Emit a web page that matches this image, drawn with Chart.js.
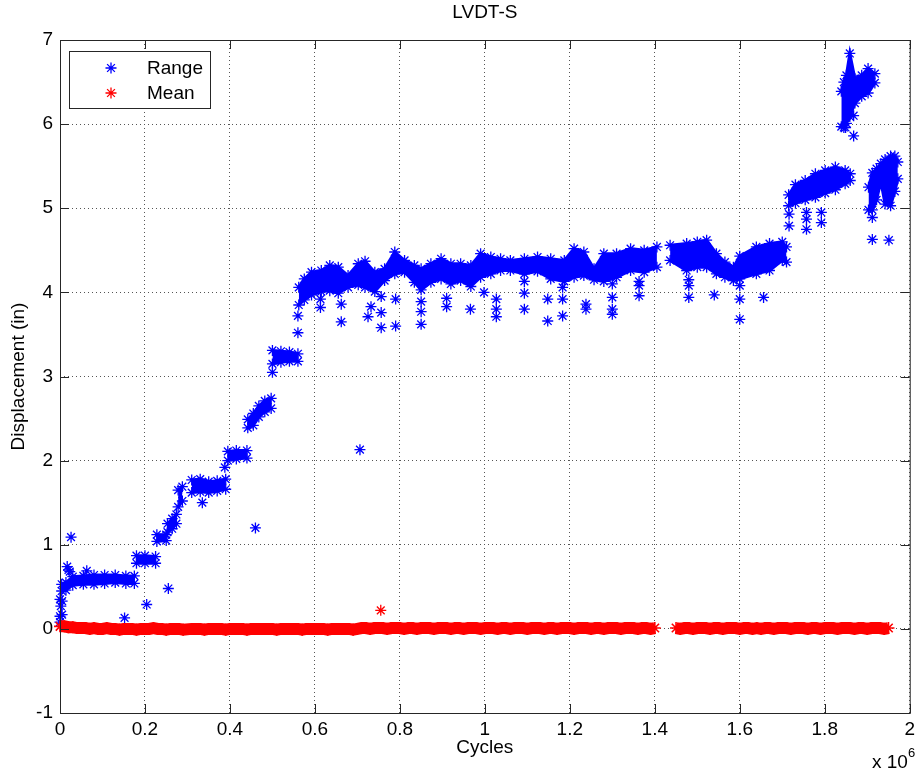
<!DOCTYPE html>
<html>
<head>
<meta charset="utf-8">
<title>LVDT-S</title>
<script src="https://cdn.jsdelivr.net/npm/chart.js@4.4.1/dist/chart.umd.min.js"></script>
<style>
  html, body { margin: 0; padding: 0; background: #fff; }
  #lvdtChart { display: block; }
</style>
</head>
<body>
<canvas id="lvdtChart" width="920" height="774"></canvas>
<script>
// cycles are stored in units of 10^6

const xTickValues = [0, 0.2, 0.4, 0.6, 0.8, 1, 1.2, 1.4, 1.6, 1.8, 2];
const yTickValues = [-1, 0, 1, 2, 3, 4, 5, 6, 7];

// Range: dense clusters given by their upper and lower edge, null splits the clusters
const bandCycles = [
  0.000, 0.005, null,
  0.004, 0.014, 0.030, 0.055, 0.080, 0.105, 0.130, 0.155, 0.175, null,
  0.180, 0.200, 0.225, null,
  0.228, 0.250, null,
  0.253, 0.264, 0.274, null,
  0.278, 0.288, null,
  0.310, 0.330, 0.350, 0.370, 0.390, null,
  0.395, 0.415, 0.440, null,
  0.442, 0.455, 0.468, 0.482, 0.497, null,
  0.500, 0.520, 0.540, 0.560, null,
  0.562, 0.575, 0.592, 0.615, 0.635, 0.655, 0.678, 0.702, 0.718, 0.741, 0.764, 0.788, 0.811, 0.834,
  0.850, 0.873, 0.897, 0.920, 0.943, 0.967, 0.990, 1.014, 1.037, 1.060, 1.093, 1.124, 1.155, 1.187,
  1.210, 1.233, 1.257, 1.280, 1.310, 1.343, 1.375, 1.405, null,
  1.436, 1.475, 1.500, 1.522, 1.545, 1.565, 1.585, 1.600, 1.639, 1.670, 1.700, 1.710, null,
  1.715, 1.731, 1.754, 1.778, 1.801, 1.825, 1.848, 1.860, null,
  1.839, 1.845, 1.851, 1.859, 1.871, 1.887, 1.902, 1.918, null,
  1.903, 1.912, 1.922, 1.932, 1.942, 1.955, 1.965, 1.972
];
const bandTop = [
  0.35, 0.33, null,
  0.53, 0.55, 0.62, 0.63, 0.64, 0.64, 0.64, 0.63, 0.63, null,
  0.87, 0.87, 0.86, null,
  1.12, 1.12, null,
  1.25, 1.31, 1.36, null,
  1.65, 1.69, null,
  1.77, 1.78, 1.75, 1.76, 1.78, null,
  2.11, 2.12, 2.12, null,
  2.49, 2.56, 2.65, 2.71, 2.74, null,
  3.31, 3.30, 3.29, 3.27, null,
  4.06, 4.16, 4.24, 4.26, 4.32, 4.30, 4.20, 4.34, 4.37, 4.24, 4.28, 4.48, 4.38, 4.32,
  4.28, 4.34, 4.40, 4.34, 4.34, 4.32, 4.46, 4.42, 4.40, 4.38, 4.40, 4.42, 4.40, 4.38,
  4.52, 4.48, 4.28, 4.46, 4.46, 4.52, 4.50, 4.54, null,
  4.56, 4.58, 4.60, 4.62, 4.46, 4.36, 4.30, 4.43, 4.54, 4.58, 4.60, 4.54, null,
  5.16, 5.28, 5.33, 5.41, 5.45, 5.49, 5.45, 5.41, null,
  6.39, 6.50, 6.58, 6.84, 6.54, 6.58, 6.66, 6.60, null,
  5.25, 5.42, 5.47, 5.53, 5.58, 5.62, 5.62, 5.55
];
const bandBottom = [
  0.15, 0.17, null,
  0.45, 0.46, 0.52, 0.53, 0.53, 0.54, 0.55, 0.54, 0.54, null,
  0.78, 0.78, 0.78, null,
  1.04, 1.05, null,
  1.15, 1.19, 1.25, null,
  1.45, 1.52, null,
  1.62, 1.63, 1.62, 1.64, 1.66, null,
  2.00, 2.02, 2.03, null,
  2.39, 2.42, 2.52, 2.58, 2.62, null,
  3.15, 3.17, 3.18, 3.18, null,
  3.85, 3.91, 3.97, 4.01, 4.02, 3.99, 4.06, 4.09, 4.06, 4.01, 4.14, 4.22, 4.24, 4.12,
  4.03, 4.12, 4.16, 4.10, 4.14, 4.07, 4.18, 4.22, 4.26, 4.26, 4.22, 4.25, 4.16, 4.13,
  4.18, 4.20, 4.15, 4.13, 4.18, 4.26, 4.24, 4.30, null,
  4.38, 4.26, 4.30, 4.30, 4.22, 4.18, 4.14, 4.16, 4.22, 4.26, 4.38, 4.36, null,
  5.03, 5.06, 5.10, 5.13, 5.18, 5.22, 5.29, 5.33, null,
  5.97, 5.96, 6.01, 6.09, 6.25, 6.33, 6.37, 6.49, null,
  4.98, 4.98, 5.10, 5.32, 5.05, 5.03, 5.20, 5.35
];

// Range: single scattered readings
const rangeOutlierCycles = [
  0.000, 0.002, 0.017, 0.020, 0.023, 0.026, 0.063, 0.152, 0.204, 0.255, 0.335, 0.388, 0.460, 0.500,
  0.560, 0.560, 0.706,
  0.613, 0.613, 0.662, 0.662, 0.725, 0.732, 0.756, 0.756, 0.756, 0.790, 0.790,
  0.850, 0.850, 0.850, 0.910, 0.910, 0.966, 0.998, 1.027, 1.027, 1.027,
  1.093, 1.093, 1.093, 1.148, 1.148, 1.183, 1.183, 1.183, 1.238, 1.238,
  1.300, 1.300, 1.300, 1.300, 1.363, 1.363, 1.363, 1.480, 1.480, 1.480,
  1.540, 1.600, 1.600, 1.600, 1.656, 1.716, 1.716,
  1.757, 1.757, 1.757, 1.792, 1.792, 1.849, 1.868, 1.868, 1.912, 1.912, 1.951
];
const rangeOutlierValues = [
  0.08, 0.27, 0.74, 0.70, 0.68, 1.09, 0.69, 0.13, 0.29, 0.48, 1.50, 1.92, 1.20, 3.05,
  3.52, 3.72, 2.13,
  3.92, 3.82, 3.86, 3.65, 3.71, 3.83, 3.95, 3.76, 3.58, 3.92, 3.60,
  3.89, 3.77, 3.62, 3.93, 3.83, 3.80, 4.00, 3.92, 3.80, 3.71,
  4.13, 3.99, 3.80, 3.92, 3.66, 4.06, 3.92, 3.72, 3.86, 3.80,
  4.10, 3.94, 3.80, 3.74, 4.13, 4.08, 3.96, 4.15, 4.08, 3.94,
  3.97, 4.08, 3.92, 3.68, 3.94, 4.93, 4.79,
  4.95, 4.87, 4.75, 4.95, 4.83, 5.96, 6.10, 5.86, 4.89, 4.63, 4.62
];

// Mean: one reading per 10^4 cycles, null marks the logging gap near 1.42
const meanCycles = [
  0.00, 0.01, 0.02, 0.03, 0.04, 0.05, 0.06, 0.07, 0.08, 0.09,
  0.10, 0.11, 0.12, 0.13, 0.14, 0.15, 0.16, 0.17, 0.18, 0.19,
  0.20, 0.21, 0.22, 0.23, 0.24, 0.25, 0.26, 0.27, 0.28, 0.29,
  0.31, 0.32, 0.33, 0.34, 0.35, 0.36, 0.37, 0.38, 0.39,
  0.40, 0.41, 0.42, 0.43, 0.44, 0.45, 0.46, 0.47, 0.48, 0.49,
  0.50, 0.51, 0.52, 0.53, 0.54, 0.55, 0.56, 0.57, 0.58, 0.59,
  0.60, 0.61, 0.62, 0.63, 0.64, 0.65, 0.66, 0.67, 0.68, 0.69,
  0.70, 0.71, 0.72, 0.73, 0.74, 0.75, 0.76, 0.77, 0.78, 0.79,
  0.80, 0.81, 0.82, 0.83, 0.84, 0.85, 0.86, 0.87, 0.88, 0.89,
  0.90, 0.91, 0.92, 0.93, 0.94, 0.95, 0.96, 0.97, 0.98, 0.99,
  1.00, 1.01, 1.02, 1.03, 1.04, 1.05, 1.06, 1.07, 1.08, 1.09,
  1.10, 1.11, 1.12, 1.13, 1.14, 1.15, 1.16, 1.17, 1.18, 1.19,
  1.20, 1.21, 1.22, 1.23, 1.24, 1.25, 1.26, 1.27, 1.28, 1.29,
  1.30, 1.31, 1.32, 1.33, 1.34, 1.35, 1.36, 1.37, 1.38, 1.39,
  1.40, 1.42,
  1.45, 1.46, 1.47, 1.48, 1.49, 1.50, 1.51, 1.52, 1.53, 1.54,
  1.55, 1.56, 1.57, 1.58, 1.59, 1.60, 1.61, 1.62, 1.63, 1.64,
  1.65, 1.66, 1.67, 1.68, 1.69, 1.70, 1.71, 1.72, 1.73, 1.74,
  1.75, 1.76, 1.77, 1.78, 1.79, 1.80, 1.81, 1.82, 1.83, 1.84,
  1.85, 1.86, 1.87, 1.88, 1.89, 1.90, 1.91, 1.92, 1.93, 1.94,
  1.95
];
const meanValues = [
  0.03, 0.03, 0.02, 0.02, 0.01, 0.01, 0.01, 0, 0.01, 0,
  0, 0.01, 0, 0, -0.01, 0, 0, 0, -0.01, 0,
  0, 0, 0.01, 0, 0, -0.01, 0, 0, 0, -0.01,
  0, 0, 0, -0.01, 0, 0, 0, 0, -0.01,
  0, 0, 0, 0, -0.01, 0, 0, 0, 0, 0,
  0, -0.01, 0, 0, 0, 0, 0, -0.01, 0, 0,
  0, 0, 0, -0.01, 0, 0, 0, 0, 0, -0.01,
  0, 0.01, 0.01, 0, 0.01, 0.01, 0.01, 0, 0.01, 0.01,
  0.01, 0, 0.01, 0.01, 0, 0.01, 0.01, 0.01, 0, 0.01,
  0.01, 0.01, 0, 0.01, 0.01, 0, 0.01, 0.01, 0.01, 0,
  0.01, 0.01, 0.01, 0, 0.01, 0.01, 0, 0.01, 0.01, 0.01,
  0, 0.01, 0.01, 0.01, 0, 0.01, 0.01, 0, 0.01, 0.01,
  0.01, 0, 0.01, 0.01, 0.01, 0, 0.01, 0.01, 0, 0.01,
  0.01, 0.01, 0, 0.01, 0.01, 0.01, 0, 0.01, 0.01, 0,
  0.01, null,
  0.01, 0, 0.01, 0.01, 0, 0.01, 0.01, 0.01, 0, 0.01,
  0.01, 0, 0.01, 0.01, 0.01, 0, 0.01, 0.01, 0, 0.01,
  0, 0.01, 0.01, 0, 0.01, 0.01, 0.01, 0, 0.01, 0.01,
  0.01, 0, 0.01, 0.01, 0, 0.01, 0.01, 0.01, 0, 0.01,
  0.01, 0.01, 0, 0.01, 0.01, 0, 0.01, 0.01, 0.01, 0,
  0.01
];
const meanOutlierCycles = [0.755];
const meanOutlierValues = [0.22];

const blue = 'rgb(0, 0, 255)';
const red = 'rgb(255, 0, 0)';
const axisColor = '#262626';
const fontFamily = "'Liberation Sans', Arial, Helvetica, sans-serif";

Chart.defaults.font.family = fontFamily;
Chart.defaults.font.size = 19;
Chart.defaults.color = '#000';

function toPoints(xs, ys) {
  return xs.map((x, i) => ({ x: x, y: ys[i] }));
}

// cut the band arrays at the nulls, one run per cluster
function splitRuns(xs, ys) {
  const runs = [];
  let run = [];
  xs.forEach((x, i) => {
    if (x === null || ys[i] === null) {
      if (run.length) runs.push(run);
      run = [];
    } else {
      run.push({ x: x, y: ys[i] });
    }
  });
  if (run.length) runs.push(run);
  return runs;
}

const starStyle = {
  pointStyle: 'star',
  pointRadius: 5.5,
  pointHoverRadius: 5.5,
  pointBorderWidth: 1.3,
  clip: false
};

const datasets = [];

// mean readings are so dense they merge into a solid strip
datasets.push(Object.assign({}, starStyle, {
  label: 'Mean',
  data: toPoints(meanCycles, meanValues),
  showLine: true,
  spanGaps: false,
  borderColor: red,
  backgroundColor: red,
  borderWidth: 12,
  pointRadius: 6,
  pointBorderWidth: 1.6,
  order: 0
}));
datasets.push(Object.assign({}, starStyle, {
  label: 'Mean',
  data: toPoints(meanOutlierCycles, meanOutlierValues),
  borderColor: red,
  backgroundColor: red,
  order: 0
}));

const topRuns = splitRuns(bandCycles, bandTop);
const bottomRuns = splitRuns(bandCycles, bandBottom);
topRuns.forEach((run, i) => {
  datasets.push(Object.assign({}, starStyle, {
    label: 'Range',
    data: run,
    showLine: true,
    borderColor: blue,
    borderWidth: 3,
    backgroundColor: blue,
    fill: false,
    order: 1
  }));
  datasets.push(Object.assign({}, starStyle, {
    label: 'Range',
    data: bottomRuns[i],
    showLine: true,
    borderColor: blue,
    borderWidth: 3,
    backgroundColor: blue,
    fill: '-1',
    order: 1
  }));
});

datasets.push(Object.assign({}, starStyle, {
  label: 'Range',
  data: toPoints(rangeOutlierCycles, rangeOutlierValues),
  borderColor: blue,
  backgroundColor: blue,
  order: 1
}));

// box round the axes, inward ticks on all four sides, title, legend and exponent
const matlabAxes = {
  id: 'matlabAxes',
  afterDraw(chart) {
    const { ctx, chartArea: a, scales } = chart;
    const xs = scales.x, ys = scales.y;
    const tick = 9;
    ctx.save();
    ctx.strokeStyle = axisColor;
    ctx.lineWidth = 1;
    ctx.strokeRect(a.left + 0.5, a.top + 0.5, a.right - a.left, a.bottom - a.top);
    ctx.beginPath();
    xTickValues.forEach(v => {
      const px = Math.round(xs.getPixelForValue(v)) + 0.5;
      ctx.moveTo(px, a.bottom); ctx.lineTo(px, a.bottom - tick);
      ctx.moveTo(px, a.top); ctx.lineTo(px, a.top + tick);
    });
    yTickValues.forEach(v => {
      const py = Math.round(ys.getPixelForValue(v)) + 0.5;
      ctx.moveTo(a.left, py); ctx.lineTo(a.left + tick, py);
      ctx.moveTo(a.right, py); ctx.lineTo(a.right - tick, py);
    });
    ctx.stroke();

    // title over the plot
    ctx.fillStyle = '#000';
    ctx.font = '19px ' + fontFamily;
    ctx.textAlign = 'center';
    ctx.textBaseline = 'middle';
    ctx.fillText('LVDT-S', (a.left + a.right) / 2, 13);

    // x 10^6 under the right end of the x axis
    ctx.textAlign = 'left';
    ctx.textBaseline = 'alphabetic';
    ctx.fillText('x 10', 872, 768);
    const w = ctx.measureText('x 10').width;
    ctx.font = '13px ' + fontFamily;
    ctx.fillText('6', 872 + w, 757);

    // legend box
    ctx.fillStyle = '#fff';
    ctx.fillRect(69.5, 51.5, 141, 57);
    ctx.strokeStyle = axisColor;
    ctx.strokeRect(69.5, 51.5, 141, 57);
    const entries = [
      { text: 'Range', color: blue, y: 68 },
      { text: 'Mean', color: red, y: 93 }
    ];
    entries.forEach(e => {
      ctx.strokeStyle = e.color;
      ctx.lineWidth = 1.3;
      Chart.helpers.drawPoint(ctx, { pointStyle: 'star', radius: 5.5, rotation: 0, borderWidth: 1.3 }, 111, e.y);
      ctx.fillStyle = '#000';
      ctx.font = '19px ' + fontFamily;
      ctx.textAlign = 'left';
      ctx.textBaseline = 'middle';
      ctx.fillText(e.text, 147, e.y + 1);
    });
    ctx.restore();
  }
};

const gridStyle = {
  color: '#555',
  lineWidth: 1,
  drawTicks: false
};

new Chart(document.getElementById('lvdtChart'), {
  type: 'scatter',
  data: { datasets: datasets },
  options: {
    responsive: false,
    devicePixelRatio: 1,
    animation: false,
    events: [],
    layout: { padding: { left: 0, right: 5, top: 40, bottom: 0 } },
    plugins: {
      legend: { display: false },
      tooltip: { enabled: false },
      title: { display: false }
    },
    scales: {
      x: {
        type: 'linear',
        min: 0,
        max: 2,
        grid: gridStyle,
        border: { display: false, dash: [1, 3] },
        afterBuildTicks: scale => { scale.ticks = xTickValues.map(v => ({ value: v })); },
        afterFit: scale => { scale.height = 61; },
        ticks: {
          padding: 5,
          maxRotation: 0,
          callback: v => String(Math.round(v * 10) / 10)
        },
        title: {
          display: true,
          text: 'Cycles',
          padding: { top: 0, bottom: 15 }
        }
      },
      y: {
        type: 'linear',
        min: -1,
        max: 7,
        grid: gridStyle,
        border: { display: false, dash: [1, 3] },
        afterBuildTicks: scale => { scale.ticks = yTickValues.map(v => ({ value: v })); },
        afterFit: scale => { scale.width = 60; },
        ticks: {
          padding: 7,
          callback: v => String(v)
        },
        title: {
          display: true,
          text: 'Displacement (in)',
          padding: { top: 7, bottom: 0 }
        }
      }
    }
  },
  plugins: [matlabAxes]
});
</script>
</body>
</html>
